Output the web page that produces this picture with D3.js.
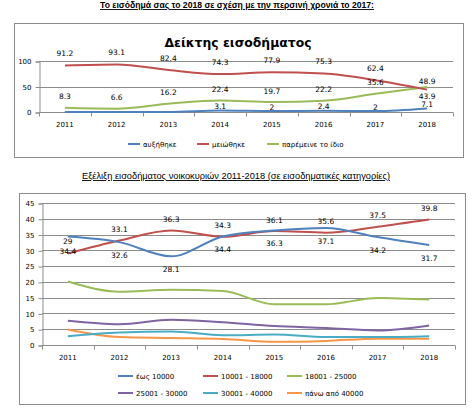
<!DOCTYPE html>
<html>
<head>
<meta charset="utf-8">
<script src="https://cdn.jsdelivr.net/npm/d3@7"></script>
<style>
  body { margin: 0; background: #fff; }
  svg { display: block; }
  text { font-family: "DejaVu Sans", Verdana, sans-serif; fill: #000; }
  .heading { font-family: "Liberation Sans Narrow", "Liberation Sans", Arial, sans-serif; font-size: 9px; text-decoration: underline; }
  .tick text { font-size: 7px; }
  .lbl { font-size: 7.5px; }
  .leg { font-size: 7px; }
</style>
</head>
<body>
<svg id="chart" width="476" height="412"></svg>
<script>

const years = ["2011", "2012", "2013", "2014", "2015", "2016", "2017", "2018"];

// top chart: index
const increased = [0, 0, 0, 3.1, 2, 2.4, 2, 7.1];
const increasedLabels = [null, null, null, "3.1", "2", "2.4", "2", "7.1"];
const decreased = [91.2, 93.1, 82.4, 74.3, 77.9, 75.3, 62.4, 43.9];
const same = [8.3, 6.6, 16.2, 22.4, 19.7, 22.2, 35.6, 48.9];
const indexTicks = [0, 50, 100];

// bottom chart: income classes
const upTo10000 = [34.4, 32.6, 28.1, 34.4, 36.3, 37.1, 34.2, 31.7];
const from10001 = [29, 33.1, 36.3, 34.3, 36.1, 35.6, 37.5, 39.8];
const from18001 = [20.1, 16.9, 17.5, 17.1, 12.9, 12.9, 14.9, 14.4];
const from25001 = [7.7, 6.6, 8.0, 7.2, 6.0, 5.4, 4.6, 6.2];
const from30001 = [2.8, 4.0, 4.3, 3.1, 3.3, 2.5, 2.5, 2.8];
const over40000 = [4.9, 2.5, 2.2, 1.9, 1.0, 1.3, 2.0, 2.0];
const classTicks = [0, 5, 10, 15, 20, 25, 30, 35, 40, 45];

const svg = d3.select("#chart");

function drawChart(cfg) {

    let g = svg.append("g");

    // frame
    g.append("rect")
        .attr("x", cfg.frame[0] + 0.5)
        .attr("y", cfg.frame[1] + 0.5)
        .attr("width", cfg.frame[2] - cfg.frame[0])
        .attr("height", cfg.frame[3] - cfg.frame[1])
        .attr("fill", "#fff")
        .attr("stroke", "#8c8c8c");

    let x = d3.scaleBand()
        .domain(years)
        .range([cfg.left, cfg.right]);

    let y = d3.scaleLinear()
        .domain(cfg.domain)
        .range([cfg.bottom, cfg.top]);

    // gridlines
    g.append("g")
        .selectAll("line")
        .data(cfg.ticks.slice(1))
        .enter()
        .append("line")
            .attr("x1", cfg.left)
            .attr("x2", cfg.right)
            .attr("y1", d => Math.round(y(d)) + 0.5)
            .attr("y2", d => Math.round(y(d)) + 0.5)
            .attr("stroke", "#8c8c8c")
            .attr("stroke-width", 1);

    // y axis
    let yAxis = g.append("g")
        .attr("transform", `translate(${cfg.left + 0.5},0.5)`)
        .call(d3.axisLeft(y).tickValues(cfg.ticks).tickSize(4).tickPadding(4));
    yAxis.select(".domain").attr("stroke", "#8c8c8c");
    yAxis.selectAll(".tick line").attr("stroke", "#8c8c8c");
    yAxis.selectAll(".tick text").attr("font-family", null);

    // x axis with ticks between categories
    let xAxis = g.append("g")
        .attr("transform", `translate(0,${Math.round(y(0)) + 0.5})`);
    xAxis.append("line")
        .attr("x1", cfg.left)
        .attr("x2", cfg.right)
        .attr("stroke", "#8c8c8c");
    let bounds = years.map(d => x(d)).concat([cfg.right]);
    xAxis.selectAll("line.tk")
        .data(bounds)
        .enter()
        .append("line")
            .classed("tk", true)
            .attr("x1", d => Math.round(d) + 0.5)
            .attr("x2", d => Math.round(d) + 0.5)
            .attr("y1", 0)
            .attr("y2", 4)
            .attr("stroke", "#8c8c8c");
    xAxis.selectAll("text")
        .data(years)
        .enter()
        .append("text")
            .style("font-size", "7px")
            .attr("x", d => x(d) + x.bandwidth() / 2)
            .attr("y", cfg.xLabelY - (Math.round(y(0)) + 0.5))
            .attr("text-anchor", "middle")
            .text(d => d);

    let line = d3.line()
        .x((d, i) => x(years[i]) + x.bandwidth() / 2)
        .y(d => y(d))
        .curve(d3.curveMonotoneX);

    // series (drawn last-first so the first series sits on top like the reference)
    cfg.series.slice().reverse().forEach(s => {
        g.append("path")
            .datum(s.values)
            .attr("fill", "none")
            .attr("stroke", s.color)
            .attr("stroke-width", 2)
            .attr("d", line);
    });

    // data labels
    cfg.series.forEach(s => {
        if (!s.labels) return;
        g.append("g")
            .selectAll("text")
            .data(s.values.map((v, i) => ({ v: v, i: i, t: s.labels[i] })).filter(d => d.t !== null))
            .enter()
            .append("text")
                .attr("class", "lbl")
                .attr("x", d => x(years[d.i]) + x.bandwidth() / 2)
                .attr("y", d => y(d.v) + (s.dy[d.i] !== undefined ? s.dy[d.i] : s.dy.all) + 2.6)
                .attr("text-anchor", "middle")
                .text(d => d.t);
    });

    // legend
    let leg = g.append("g")
        .selectAll("g")
        .data(cfg.series)
        .enter()
        .append("g")
            .attr("transform", (d, i) => `translate(${cfg.legendX[i % cfg.legendX.length]},${cfg.legendY[Math.floor(i / cfg.legendX.length)]})`);
    leg.append("line")
        .attr("x1", 0)
        .attr("x2", cfg.legendLine)
        .attr("stroke", d => d.color)
        .attr("stroke-width", 2);
    leg.append("text")
        .attr("class", "leg")
        .attr("x", cfg.legendLine + 3)
        .attr("y", 2.5)
        .text(d => d.name);

    return g;
}

// headings
svg.append("text")
    .attr("class", "heading")
    .attr("x", 237)
    .attr("y", 8)
    .attr("text-anchor", "middle")
    .attr("font-weight", "bold")
    .attr("textLength", 274)
    .attr("lengthAdjust", "spacingAndGlyphs")
    .text("Το εισόδημά σας το 2018 σε σχέση με την περσινή χρονιά το 2017:");

svg.append("text")
    .attr("class", "heading")
    .attr("x", 236)
    .attr("y", 179)
    .attr("text-anchor", "middle")
    .attr("textLength", 308)
    .attr("lengthAdjust", "spacingAndGlyphs")
    .text("Εξέλιξη εισοδήματος νοικοκυριών 2011-2018 (σε εισοδηματικές κατηγορίες)");

// top chart
let topChart = drawChart({
    frame: [14, 23, 463, 157],
    left: 39, right: 453, top: 61, bottom: 112,
    domain: [0, 100],
    ticks: indexTicks,
    xLabelY: 127,
    series: [
        { name: "αυξήθηκε", color: "#4f81bd", values: increased, labels: increasedLabels, dy: { all: -4 } },
        { name: "μειώθηκε", color: "#c0504d", values: decreased, labels: decreased.map(String), dy: { all: -12, 7: 7 } },
        { name: "παρέμεινε το ίδιο", color: "#9bbb59", values: same, labels: same.map(String), dy: { all: -11, 7: -6 } }
    ],
    legendX: [128, 197, 267],
    legendY: [144],
    legendLine: 12
});

topChart.append("text")
    .attr("x", 238)
    .attr("y", 47)
    .attr("text-anchor", "middle")
    .attr("font-weight", "bold")
    .attr("font-size", 13)
    .attr("textLength", 147)
    .attr("lengthAdjust", "spacingAndGlyphs")
    .text("Δείκτης εισοδήματος");

// bottom chart
drawChart({
    frame: [19, 193, 465, 404],
    left: 42, right: 455, top: 203, bottom: 345,
    domain: [0, 45],
    ticks: classTicks,
    xLabelY: 360,
    series: [
        { name: "έως 10000", color: "#4f81bd", values: upTo10000, labels: upTo10000.map(String), dy: { all: 13, 0: 14.5 } },
        { name: "10001 - 18000", color: "#c0504d", values: from10001, labels: from10001.map(String), dy: { all: -11, 0: -12 } },
        { name: "18001 - 25000", color: "#9bbb59", values: from18001 },
        { name: "25001 - 30000", color: "#8064a2", values: from25001 },
        { name: "30001 - 40000", color: "#4bacc6", values: from30001 },
        { name: "πάνω από 40000", color: "#f79646", values: over40000 }
    ],
    legendX: [118, 203, 287],
    legendY: [376, 393],
    legendLine: 15
});

</script>
</body>
</html>
